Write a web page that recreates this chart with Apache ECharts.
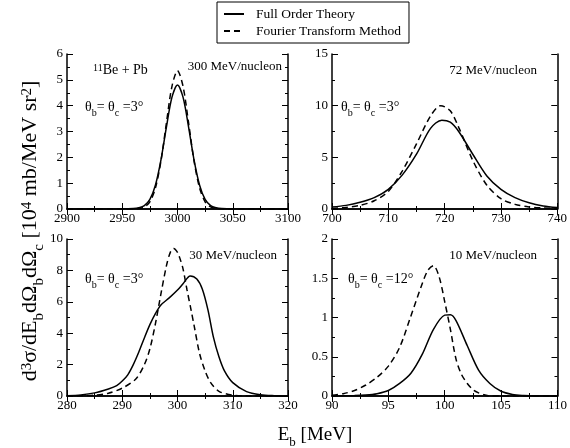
<!DOCTYPE html>
<html><head><meta charset="utf-8">
<script src="https://cdn.jsdelivr.net/npm/echarts@6/dist/echarts.min.js"></script>
<style>html,body{margin:0;padding:0;background:#fff}#c{width:570px;height:448px}</style>
</head><body><div id="c"></div>
<script>
// ---- data ----
const seriesNames = ['Full Order Theory', 'Fourier Transform Method'];
const panelLabels = ['300 MeV/nucleon', '72 MeV/nucleon', '30 MeV/nucleon', '10 MeV/nucleon'];
const angleLabels = ['3°', '3°', '3°', '12°'];
const xMins = [2900, 700, 280, 90];
const xMaxs = [3100, 740, 320, 110];
const xSteps = [50, 10, 10, 5];
const yMaxs = [6, 15, 10, 2];
const ySteps = [1, 5, 2, 0.5];

// 300 MeV/nucleon
const p1FullE = [2900, 2950, 2960, 2965, 2970, 2975, 2980, 2985, 2990, 2995, 3000, 3005, 3010, 3015, 3020, 3025, 3030, 3035, 3040, 3050, 3100];
const p1FullV = [0, 0.005, 0.02, 0.05, 0.13, 0.37, 0.92, 1.89, 3.18, 4.33, 4.8, 4.33, 3.18, 1.89, 0.92, 0.37, 0.13, 0.05, 0.02, 0.005, 0];
const p1FourE = [2900, 2960, 2965, 2970, 2975, 2980, 2985, 2990, 2995, 3000, 3005, 3010, 3015, 3020, 3025, 3030, 3035, 3040, 3100];
const p1FourV = [0, 0.005, 0.02, 0.08, 0.28, 0.81, 1.85, 3.34, 4.75, 5.35, 4.75, 3.34, 1.85, 0.81, 0.28, 0.08, 0.02, 0.005, 0];

// 72 MeV/nucleon
const p2FullE = [700, 702.5, 705, 707.5, 710, 712.5, 715, 717.5, 719.5, 721, 722.5, 725, 727.5, 730, 732.5, 735, 737.5, 740];
const p2FullV = [0.2, 0.35, 0.65, 1.1, 1.9, 3.3, 5.3, 7.8, 8.6, 8.4, 7.5, 5.3, 3.2, 1.9, 1.1, 0.6, 0.3, 0.15];
const p2FourE = [700, 702.5, 705, 707.5, 710, 712.5, 715, 717.5, 719.3, 721, 722.5, 725, 727.5, 730, 732.5, 735, 737.5, 740];
const p2FourV = [0.05, 0.15, 0.35, 0.8, 1.7, 3.7, 6.3, 9.0, 10.0, 9.5, 7.9, 4.7, 2.3, 1.0, 0.45, 0.2, 0.1, 0.05];

// 30 MeV/nucleon
const p3FullE = [280, 282.5, 285, 287.5, 289, 290, 291, 292, 293, 294, 295, 296, 297, 298.5, 300, 301, 302.3, 303.5, 304.5, 305.5, 306.5, 307.5, 308.5, 310, 312.5, 315, 317.5, 320];
const p3FullV = [0.02, 0.07, 0.2, 0.45, 0.66, 0.95, 1.35, 2.0, 2.8, 3.7, 4.55, 5.25, 5.8, 6.25, 6.75, 7.15, 7.65, 7.45, 6.8, 5.5, 3.75, 2.5, 1.6, 0.85, 0.28, 0.08, 0.02, 0];
const p3FourE = [280, 285, 287.5, 290, 292.5, 294, 295, 296, 297, 298, 298.7, 299.3, 300, 300.5, 301, 301.7, 302.5, 303, 304, 305, 306, 307.5, 310, 312.5, 320];
const p3FourV = [0, 0.05, 0.18, 0.5, 1.1, 2.0, 3.0, 4.6, 6.5, 8.3, 9.15, 9.4, 9.15, 8.7, 8.1, 6.8, 5.4, 4.5, 2.7, 1.6, 0.85, 0.3, 0.05, 0.01, 0];

// 10 MeV/nucleon
const p4FullE = [90, 92, 93, 94, 95, 96, 97, 98, 99, 100, 100.5, 101, 102, 103, 104, 105, 106, 107, 108, 110];
const p4FullV = [0, 0.005, 0.012, 0.03, 0.07, 0.16, 0.29, 0.53, 0.85, 1.03, 1.035, 0.96, 0.64, 0.33, 0.16, 0.06, 0.02, 0.006, 0, 0];
const p4FourE = [90, 91, 92, 93, 94, 95, 96, 97, 98, 98.5, 99, 99.5, 100, 100.5, 101, 101.5, 102, 102.5, 103, 103.5, 104, 110];
const p4FourV = [0.01, 0.03, 0.07, 0.14, 0.24, 0.38, 0.62, 1.02, 1.43, 1.6, 1.66, 1.52, 1.2, 0.85, 0.47, 0.27, 0.16, 0.08, 0.04, 0.015, 0, 0];

const fullE = [p1FullE, p2FullE, p3FullE, p4FullE];
const fullV = [p1FullV, p2FullV, p3FullV, p4FullV];
const fourE = [p1FourE, p2FourE, p3FourE, p4FourE];
const fourV = [p1FourV, p2FourV, p3FourV, p4FourV];

// ---- layout / style ----
const FONT = 'Liberation Serif, Times New Roman, serif';
const grids = [
  {left: 67, top: 54, width: 221, height: 155},
  {left: 332, top: 54, width: 230, height: 155},
  {left: 67, top: 239, width: 221, height: 157},
  {left: 332, top: 239, width: 230, height: 157}
];
const zip = (a, b) => a.map((x, i) => [x, b[i]]);
const lineAx = {show: true, lineStyle: {color: '#000', width: 1.5}};
const tick = {show: true, inside: true, length: 6, lineStyle: {color: '#000', width: 1}};
const minor = {show: true, splitNumber: 2, length: 3, lineStyle: {color: '#000', width: 1}};
const lbl = {color: '#000', fontFamily: FONT, fontSize: 13, formatter: v => String(v)};

const xAxes = [], yAxes = [], series = [];
for (let i = 0; i < 4; i++) {
  ['bottom', 'top'].forEach(pos => xAxes.push({
    type: 'value', gridIndex: i, position: pos, min: xMins[i], max: xMaxs[i], interval: xSteps[i],
    axisLine: lineAx, axisTick: tick, minorTick: minor, splitLine: {show: false},
    axisLabel: pos === 'bottom' ? Object.assign({margin: 3}, lbl) : {show: false}
  }));
  ['left', 'right'].forEach(pos => yAxes.push({
    type: 'value', gridIndex: i, position: pos, min: 0, max: yMaxs[i], interval: ySteps[i],
    axisLine: lineAx, axisTick: tick, minorTick: minor, splitLine: {show: false},
    axisLabel: pos === 'left' ? Object.assign({margin: 4}, lbl) : {show: false}
  }));
  series.push({
    name: seriesNames[0], type: 'line', xAxisIndex: 2 * i, yAxisIndex: 2 * i,
    data: zip(fullE[i], fullV[i]), symbol: 'none', smooth: 0.3,
    lineStyle: {color: '#000', width: 1.5, type: 'solid'}, itemStyle: {color: '#000'}
  });
  series.push({
    name: seriesNames[1], type: 'line', xAxisIndex: 2 * i, yAxisIndex: 2 * i,
    data: zip(fourE[i], fourV[i]), symbol: 'none', smooth: 0.3,
    lineStyle: {color: '#000', width: 1.5, type: [6, 4]}, itemStyle: {color: '#000'}
  });
}

const mainR = {fontFamily: FONT, fontSize: 14, verticalAlign: 'top', lineHeight: 16, color: '#000'};
const supR = {fontFamily: FONT, fontSize: 10, verticalAlign: 'top', lineHeight: 11, color: '#000'};
const subR = {fontFamily: FONT, fontSize: 10, verticalAlign: 'top', lineHeight: 11, padding: [8, 0, 0, 0], color: '#000'};
const richSmall = {m: mainR, sup: supR, sub: subR};
const thetaText = a => '{m|θ}{sub|b}{m|= θ}{sub|c}{m| =' + a + '}';
const labelPos = [[282, 67], [537, 71], [277, 256], [537, 256]];
const thetaPos = [[85, 108], [341, 108], [85, 280], [348, 280]];

const graphic = [];
for (let i = 0; i < 4; i++) {
  graphic.push({type: 'text', x: labelPos[i][0], y: labelPos[i][1],
    style: {text: panelLabels[i], fontFamily: FONT, fontSize: 13, fill: '#000', align: 'right', verticalAlign: 'middle'}});
  graphic.push({type: 'text', x: thetaPos[i][0], y: thetaPos[i][1],
    style: {text: thetaText(angleLabels[i]), rich: richSmall, align: 'left', verticalAlign: 'middle'}});
}
graphic.push({type: 'text', x: 93, y: 71,
  style: {text: '{sup|11}{m|Be + Pb}', rich: richSmall, align: 'left', verticalAlign: 'middle'}});
// axis titles
const bigR = {
  m: {fontFamily: FONT, fontSize: 19, verticalAlign: 'top', lineHeight: 22, color: '#000'},
  sup: {fontFamily: FONT, fontSize: 13, verticalAlign: 'top', lineHeight: 14, color: '#000'},
  sub: {fontFamily: FONT, fontSize: 13, verticalAlign: 'top', lineHeight: 14, padding: [10, 0, 0, 0], color: '#000'}
};
const yR = {
  m: {fontFamily: FONT, fontSize: 22, verticalAlign: 'top', lineHeight: 25, color: '#000'},
  sup: {fontFamily: FONT, fontSize: 15, verticalAlign: 'top', lineHeight: 16, color: '#000'},
  sub: {fontFamily: FONT, fontSize: 15, verticalAlign: 'top', lineHeight: 16, padding: [12, 0, 0, 0], color: '#000'}
};
graphic.push({type: 'text', x: 32, y: 231, rotation: Math.PI / 2,
  style: {text: '{m|d}{sup|3}{m|σ/dE}{sub|b}{m|dΩ}{sub|b}{m|dΩ}{sub|c}{m| [10}{sup|4}{m| mb/MeV sr}{sup|2}{m|]}',
    rich: yR, align: 'center', verticalAlign: 'middle'}});
graphic.push({type: 'text', x: 315, y: 437,
  style: {text: '{m|E}{sub|b}{m| [MeV]}', rich: bigR, align: 'center', verticalAlign: 'middle'}});

const chart = echarts.init(document.getElementById('c'), null, {renderer: 'canvas'});
chart.setOption({
  animation: false,
  backgroundColor: '#fff',
  legend: {
    data: seriesNames, orient: 'vertical', left: 217, top: 2,
    padding: [5, 8, 5, 6], itemGap: 3, itemWidth: 20, itemHeight: 12,
    borderColor: '#000', borderWidth: 1, borderRadius: 0,
    itemStyle: {opacity: 0},
    textStyle: {fontFamily: FONT, fontSize: 13.5, color: '#000', padding: [0, 0, 0, 7]},
    selectedMode: false
  },
  grid: grids,
  xAxis: xAxes,
  yAxis: yAxes,
  series: series,
  graphic: graphic
});
</script>
</body></html>
